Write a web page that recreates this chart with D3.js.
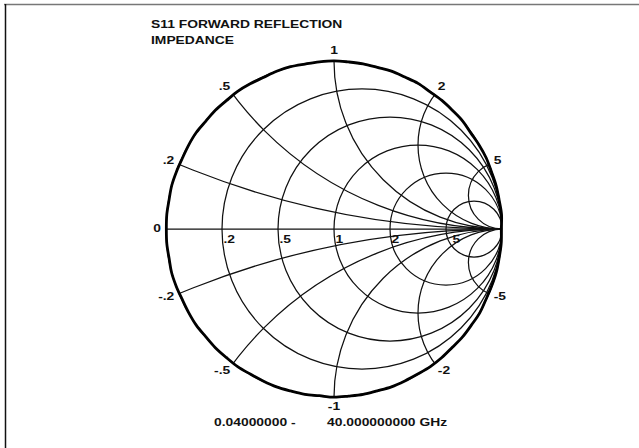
<!DOCTYPE html>
<html>
<head>
<meta charset="utf-8">
<style>
    body { margin: 0; background: #fff; }
    svg { display: block; font-family: "Liberation Sans", Arial, sans-serif; }
    .grid { fill: none; stroke: #111; stroke-width: 1.25; }
    .lbl { font-size: 11px; font-weight: bold; fill: #111; }
</style>
</head>
<body>
<svg id="chart"></svg>
<script src="https://cdn.jsdelivr.net/npm/d3@7"></script>
<script>
    "use strict"
    const width = 639;
    const height = 448;
    const stretch = 1.26; // the lettering is wider than plain Arial

    // chart content
    const titleLines = ["S11 FORWARD REFLECTION", "IMPEDANCE"];
    const resistances = [0.2, 0.5, 1, 2, 5];
    const resistanceLabels = [".2", ".5", "1", "2", "5"];
    const reactances = [0.2, 0.5, 1, 2, 5, -0.2, -0.5, -1, -2, -5];
    const reactanceLabels = [".2", ".5", "1", "2", "5", "-.2", "-.5", "-1", "-2", "-5"];
    const startFreq = "0.04000000 -";
    const stopFreq = "40.000000000 GHz";

    // measured trace (phase in degrees, magnitude of S11)
    const tracePhase = [180,175,170,165,160,155,150,145,140,135,130,125,120,115,110,105,100,95,90,85,80,75,70,65,60,55,50,45,40,35,30,25,20,15,10,5,0,-5,-10,-15,-20,-25,-30,-35,-40,-45,-50,-55,-60,-65,-70,-75,-80,-85,-90,-95,-100,-105,-110,-115,-120,-125,-130,-135,-140,-145,-150,-155,-160,-165,-170,-175,-180];
    const traceMag = [0.998,0.999,0.997,1.000,0.998,0.996,0.999,1.001,0.997,0.999,
        0.997,1.000,0.998,0.995,0.999,1.000,0.997,0.999,1.001,0.998,
        0.998,0.996,1.000,0.998,1.001,0.997,0.999,0.998,1.000,0.995,
        0.998,1.000,0.997,0.999,0.998,1.001,0.996,0.999,0.998,1.000,
        0.998,0.997,1.001,0.998,0.999,0.996,0.999,1.000,0.997,0.998,
        1.000,0.997,0.999,0.998,1.001,0.996,0.999,0.998,1.000,0.998,
        0.997,1.000,0.998,0.999,0.997,1.000,0.998,0.996,0.999,1.001,
        0.997,0.999,0.998];

    const svg = d3.select("#chart")
        .attr("width", width)
        .attr("height", height);

    // page frame
    svg.append("line").attr("x1", 4).attr("x2", width).attr("y1", 4.5).attr("y2", 4.5)
        .attr("stroke", "#777").attr("stroke-width", 1.5);
    svg.append("line").attr("x1", 5.5).attr("x2", 5.5).attr("y1", 4).attr("y2", height)
        .attr("stroke", "#111").attr("stroke-width", 1.5);

    const x = d3.scaleLinear().domain([-1, 1]).range([166, 502]);
    const y = d3.scaleLinear().domain([-1, 1]).range([397, 61]);
    const k = x(1) - x(0); // pixels per unit of gamma

    svg.append("clipPath").attr("id", "unit")
        .append("circle").attr("cx", x(0)).attr("cy", y(0)).attr("r", k);

    const g = svg.append("g").attr("clip-path", "url(#unit)");

    // constant resistance circles
    g.selectAll(".rcirc")
        .data(resistances)
        .join("circle")
        .attr("class", "grid rcirc")
        .attr("cx", r => x(r / (r + 1)))
        .attr("cy", y(0))
        .attr("r", r => k / (r + 1));

    // constant reactance arcs
    g.selectAll(".xcirc")
        .data(reactances)
        .join("circle")
        .attr("class", "grid xcirc")
        .attr("cx", x(1))
        .attr("cy", v => y(1 / v))
        .attr("r", v => k / Math.abs(v));

    // real axis
    svg.append("line").attr("class", "grid")
        .attr("x1", x(-1)).attr("x2", x(1))
        .attr("y1", y(0)).attr("y2", y(0));

    svg.append("circle").attr("class", "grid")
        .attr("cx", x(0)).attr("cy", y(0)).attr("r", k);

    // trace
    const line = d3.line()
        .x((d, i) => x(traceMag[i] * Math.cos(d * Math.PI / 180)))
        .y((d, i) => y(traceMag[i] * Math.sin(d * Math.PI / 180)))
        .curve(d3.curveCatmullRom);

    svg.append("path")
        .datum(tracePhase)
        .attr("d", line)
        .attr("fill", "none")
        .attr("stroke", "#000")
        .attr("stroke-width", 2.8)
        .attr("stroke-linejoin", "round");

    function place(sel, fx, fy) {
        sel.attr("transform", (d, i) => `translate(${fx(d, i)},${fy(d, i)}) scale(${stretch},1)`);
    }

    // resistance labels on the real axis
    svg.selectAll(".rlbl")
        .data(resistances)
        .join("text")
        .attr("class", "lbl rlbl")
        .call(place, r => x((r - 1) / (r + 1)) + 1.5 + (r > 3 ? 5 : 0), () => y(0) + 14)
        .text((r, i) => resistanceLabels[i]);

    // reactance labels round the rim
    const rim = reactances.map((v, i) => {
        const a = Math.PI - 2 * Math.atan(v);
        return { a: a, text: reactanceLabels[i] };
    });
    rim.push({ a: Math.PI, text: "0" });

    svg.selectAll(".xlbl")
        .data(rim)
        .join("text")
        .attr("class", "lbl xlbl")
        .call(place,
            d => x(Math.cos(d.a)) + Math.cos(d.a) * 5,
            d => y(Math.sin(d.a)) - Math.sin(d.a) * 10 + 3)
        .attr("text-anchor", d => Math.cos(d.a) > 0.1 ? "start" : Math.cos(d.a) < -0.1 ? "end" : "middle")
        .text(d => d.text);

    // title
    svg.selectAll(".title")
        .data(titleLines)
        .join("text")
        .attr("class", "lbl title")
        .call(place, () => 151, (d, i) => 28 + i * 16)
        .text(d => d);

    svg.append("text").attr("class", "lbl")
        .datum(startFreq).call(place, () => 214, () => 426).text(startFreq);
    svg.append("text").attr("class", "lbl")
        .datum(stopFreq).call(place, () => 327, () => 426).text(stopFreq);
</script>
</body>
</html>
